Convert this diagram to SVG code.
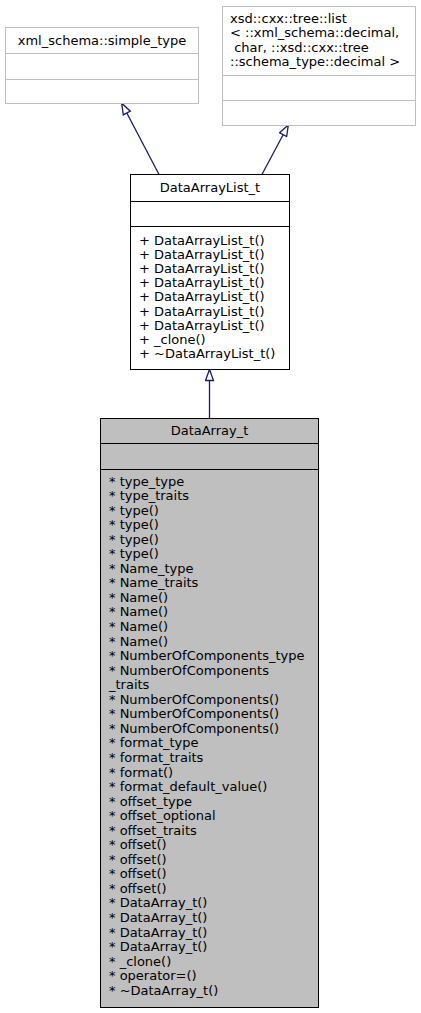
<svg xmlns="http://www.w3.org/2000/svg" width="421" height="1013" viewBox="0 0 421 1013">
<style>
text{font-family:"DejaVu Sans",sans-serif;font-size:13px;fill:#000}
.c{text-anchor:middle}
.g{fill:#fff;stroke:#bfbfbf;stroke-width:1}
.gl{stroke:#bfbfbf;stroke-width:1}
.w{fill:#fff;stroke:#000;stroke-width:1}
.d{fill:#bfbfbf;stroke:#000;stroke-width:1}
.bl{stroke:#000;stroke-width:1}
.e{stroke:#191970;stroke-width:1.3;fill:none;marker-end:url(#ah)}
</style>
<defs>
<marker id="ah" markerUnits="userSpaceOnUse" markerWidth="14" markerHeight="10" refX="11" refY="4" orient="auto" viewBox="-1 -1 14 10">
<path d="M0,0 L11,4 L0,8 Z" fill="#fff" stroke="#191970" stroke-width="1.3"/>
</marker>
</defs>
<rect width="421" height="1013" fill="#fff"/>
<g id="edges">
<path class="e" d="M159.3,175 L121.7,103.3"/>
<path class="e" d="M261.7,175 L288.3,125"/>
<path class="e" d="M209.5,418 L209.5,369.5"/>
</g>
<g id="simple_type">
<rect class="g" x="5.5" y="27.5" width="193" height="76"/>
<line class="gl" x1="5.5" y1="53.5" x2="198.5" y2="53.5"/>
<line class="gl" x1="5.5" y1="79.5" x2="198.5" y2="79.5"/>
<text class="c" x="102" y="44.5">xml_schema::simple_type</text>
</g>
<g id="list">
<rect class="g" x="222.5" y="6.5" width="193" height="119"/>
<line class="gl" x1="222.5" y1="75.5" x2="415.5" y2="75.5"/>
<line class="gl" x1="222.5" y1="100.5" x2="415.5" y2="100.5"/>
<text x="230" y="22.5" xml:space="preserve">xsd::cxx::tree::list</text>
<text x="230" y="37" xml:space="preserve">&lt; ::xml_schema::decimal,</text>
<text x="230" y="51.5" xml:space="preserve"> char, ::xsd::cxx::tree</text>
<text x="230" y="66" xml:space="preserve">::schema_type::decimal &gt;</text>
</g>
<g id="DataArrayList_t">
<rect class="w" x="130.5" y="174.5" width="159" height="195"/>
<line class="bl" x1="130.5" y1="201.5" x2="289.5" y2="201.5"/>
<line class="bl" x1="130.5" y1="226.5" x2="289.5" y2="226.5"/>
<text class="c" x="210" y="191.5">DataArrayList_t</text>
<text x="139" y="244.5">+ DataArrayList_t()</text>
<text x="139" y="258.7">+ DataArrayList_t()</text>
<text x="139" y="272.9">+ DataArrayList_t()</text>
<text x="139" y="287.1">+ DataArrayList_t()</text>
<text x="139" y="301.3">+ DataArrayList_t()</text>
<text x="139" y="315.5">+ DataArrayList_t()</text>
<text x="139" y="329.7">+ DataArrayList_t()</text>
<text x="139" y="343.9">+ _clone()</text>
<text x="139" y="358.1">+ ~DataArrayList_t()</text>
</g>
<g id="DataArray_t">
<rect class="d" x="100.5" y="418.5" width="218" height="589"/>
<line class="bl" x1="100.5" y1="443.5" x2="318.5" y2="443.5"/>
<line class="bl" x1="100.5" y1="469.5" x2="318.5" y2="469.5"/>
<text class="c" x="209.5" y="434.5">DataArray_t</text>
<text x="109" y="485.5">* type_type</text>
<text x="109" y="500.05">* type_traits</text>
<text x="109" y="514.6">* type()</text>
<text x="109" y="529.15">* type()</text>
<text x="109" y="543.7">* type()</text>
<text x="109" y="558.25">* type()</text>
<text x="109" y="572.8">* Name_type</text>
<text x="109" y="587.35">* Name_traits</text>
<text x="109" y="601.9">* Name()</text>
<text x="109" y="616.45">* Name()</text>
<text x="109" y="631">* Name()</text>
<text x="109" y="645.55">* Name()</text>
<text x="109" y="660.1">* NumberOfComponents_type</text>
<text x="109" y="674.65">* NumberOfComponents</text>
<text x="109" y="689.2">_traits</text>
<text x="109" y="703.75">* NumberOfComponents()</text>
<text x="109" y="718.3">* NumberOfComponents()</text>
<text x="109" y="732.85">* NumberOfComponents()</text>
<text x="109" y="747.4">* format_type</text>
<text x="109" y="761.95">* format_traits</text>
<text x="109" y="776.5">* format()</text>
<text x="109" y="791.05">* format_default_value()</text>
<text x="109" y="805.6">* offset_type</text>
<text x="109" y="820.15">* offset_optional</text>
<text x="109" y="834.7">* offset_traits</text>
<text x="109" y="849.25">* offset()</text>
<text x="109" y="863.8">* offset()</text>
<text x="109" y="878.35">* offset()</text>
<text x="109" y="892.9">* offset()</text>
<text x="109" y="907.45">* DataArray_t()</text>
<text x="109" y="922">* DataArray_t()</text>
<text x="109" y="936.55">* DataArray_t()</text>
<text x="109" y="951.1">* DataArray_t()</text>
<text x="109" y="965.65">* _clone()</text>
<text x="109" y="980.2">* operator=()</text>
<text x="109" y="994.75">* ~DataArray_t()</text>
</g>
</svg>
